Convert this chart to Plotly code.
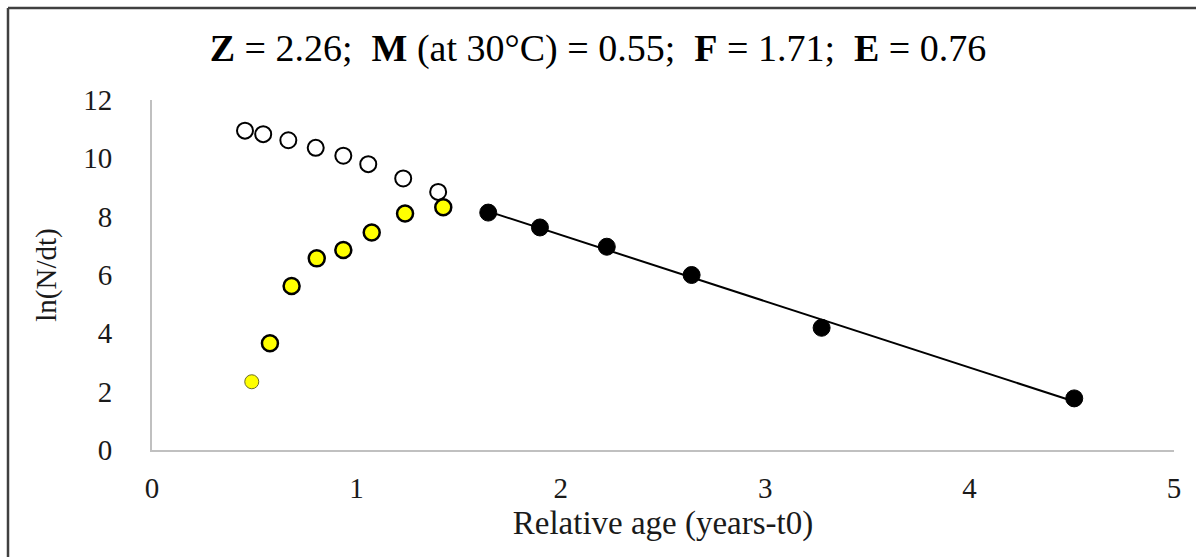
import numpy as np
import plotly.graph_objects as go

# Open circles (unused points)
open_x = [0.455, 0.544, 0.667, 0.801, 0.936, 1.058, 1.229, 1.400]
open_y = [10.95, 10.83, 10.62, 10.36, 10.09, 9.80, 9.31, 8.85]

# Yellow circles (ascending limb)
yellow_x = [0.577, 0.683, 0.806, 0.936, 1.075, 1.238, 1.425]
yellow_y = [3.66, 5.62, 6.57, 6.86, 7.46, 8.11, 8.32]
yellow_first_x = [0.488]
yellow_first_y = [2.34]

# Black circles (used in regression)
black_x = [1.645, 1.898, 2.225, 2.640, 3.276, 4.512]
black_y = [8.14, 7.63, 6.97, 6.00, 4.19, 1.77]

title_html = ("<b>Z</b> = 2.26;  <b>M</b> (at 30°C) = 0.55;  "
              "<b>F</b> = 1.71;  <b>E</b> = 0.76")

FONT = "Liberation Serif, Times New Roman, serif"

slope, intercept = np.polyfit(black_x, black_y, 1)
line_x = [min(black_x), max(black_x)]
line_y = [slope * v + intercept for v in line_x]

fig = go.Figure()
fig.add_trace(go.Scatter(x=line_x, y=line_y, mode="lines",
                         line=dict(color="black", width=2), hoverinfo="skip"))
fig.add_trace(go.Scatter(x=open_x, y=open_y, mode="markers",
                         marker=dict(symbol="circle", size=16, color="white",
                                     line=dict(color="black", width=2))))
fig.add_trace(go.Scatter(x=yellow_first_x, y=yellow_first_y, mode="markers",
                         marker=dict(symbol="circle", size=14, color="#ffff00",
                                     line=dict(color="#6b6b2a", width=1))))
fig.add_trace(go.Scatter(x=yellow_x, y=yellow_y, mode="markers",
                         marker=dict(symbol="circle", size=16, color="#ffff00",
                                     line=dict(color="black", width=2.5))))
fig.add_trace(go.Scatter(x=black_x, y=black_y, mode="markers",
                         marker=dict(symbol="circle", size=17, color="black",
                                     line=dict(color="black", width=1))))

L, R, T, B = 152, 22, 100, 107
W, H = 1196, 557
pw, ph = W - L - R, H - T - B


def px(X):
    return (X - L) / pw


def py(Y):
    return (H - B - Y) / ph


fig.update_layout(
    width=W, height=H,
    margin=dict(l=L, r=R, t=T, b=B),
    paper_bgcolor="white", plot_bgcolor="white",
    showlegend=False,
    font=dict(family=FONT, color="#1a1a1a", size=28),
    title=dict(text=title_html, x=0.5, xanchor="center",
               y=(H - 48) / H, yanchor="middle",
               font=dict(family=FONT, size=38, color="black")),
    xaxis=dict(range=[0, 5], tickvals=[0, 1, 2, 3, 4, 5],
               showgrid=False, zeroline=False,
               showline=True, linecolor="#c0c0c0", linewidth=2,
               ticks="outside", ticklen=11, tickcolor="rgba(0,0,0,0)",
               tickfont=dict(family=FONT, size=29, color="#1a1a1a"),
               title=dict(text="Relative age (years-t0)", standoff=8,
                          font=dict(family=FONT, size=33, color="#1a1a1a"))),
    yaxis=dict(range=[0, 12], tickvals=[0, 2, 4, 6, 8, 10, 12],
               showgrid=False, zeroline=False,
               showline=True, linecolor="#c0c0c0", linewidth=2,
               ticks="outside", ticklen=32, tickcolor="rgba(0,0,0,0)",
               tickfont=dict(family=FONT, size=29, color="#1a1a1a"),
               title=dict(text="ln(N/dt)", standoff=18,
                          font=dict(family=FONT, size=29, color="#1a1a1a"))),
    shapes=[
        dict(type="line", xref="paper", yref="paper",
             x0=px(8), x1=px(8), y0=py(8), y1=py(H + 20),
             line=dict(color="#404040", width=2.5)),
        dict(type="line", xref="paper", yref="paper",
             x0=px(8), x1=px(W + 20), y0=py(8), y1=py(8),
             line=dict(color="#404040", width=2.5)),
    ],
)

fig.write_html("out.html")
